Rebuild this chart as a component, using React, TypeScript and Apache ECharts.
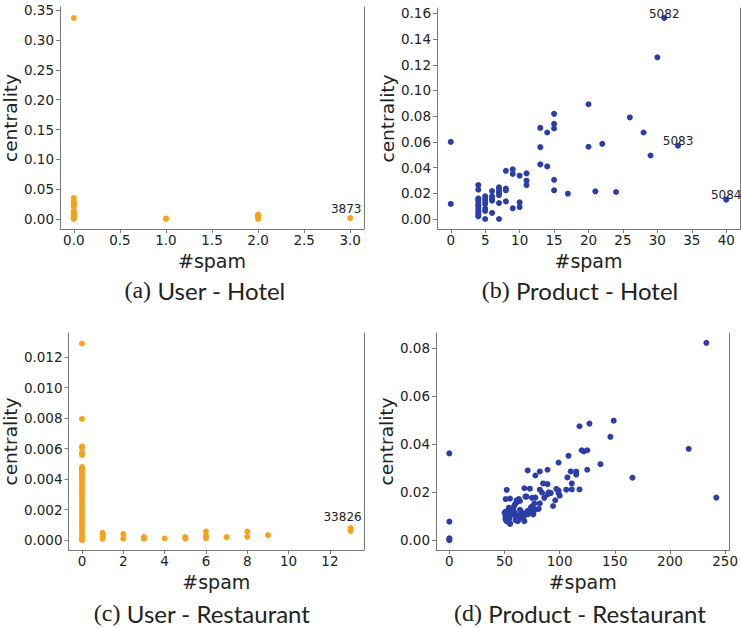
import React, { useEffect, useRef } from 'react';
import * as echarts from 'echarts';

const ORANGE = '#f9a11b';
const BLUE = '#2b3da6';
const AXIS_GREY = '#7a7a7a';
const TEXT = '#222222';

// (a) User - Hotel
const userHotel: number[][] = [
  [0, 0.337], [0, 0.0353], [0, 0.029], [0, 0.027], [0, 0.025], [0, 0.0225], [0, 0.0205],
  [0, 0.0135], [0, 0.011], [0, 0.0095], [0, 0.0075], [0, 0.006], [0, 0.004], [0, 0.0025],
  [0, 0.001], [0, 0], [1, 0], [1, 0.0008], [2, 0], [2, 0.002], [2, 0.004], [2, 0.0058], [2, 0.0075],
];
const userHotelLabeled: [number, number, string][] = [[3, 0.0015, '3873']];

// (b) Product - Hotel
const productHotel: number[][] = [
  [0, 0.06], [0, 0.0117], [30, 0.1258], [20, 0.0893], [26, 0.079], [28, 0.0673],
  [15, 0.0818], [15, 0.074], [15, 0.0704], [13, 0.0709], [14, 0.0673], [13, 0.0559],
  [20, 0.0562], [22, 0.0585], [29, 0.0494], [13, 0.0425], [14, 0.0409], [15, 0.0305],
  [15, 0.0223], [17, 0.0197], [21, 0.0215], [24, 0.021], [8, 0.0375], [9, 0.0386],
  [9, 0.035], [10, 0.0337], [11, 0.0355], [11, 0.0298], [11, 0.0264], [8, 0.0236],
  [8, 0.0223], [8, 0.0137], [9, 0.0083], [10, 0.0129], [10, 0.0093], [7, 0.0246],
  [7, 0.0228], [7, 0.0207], [7, 0.0186], [7, 0.0124], [7, 0.0], [6, 0.0217], [6, 0.0176],
  [6, 0.0158], [6, 0.0142], [6, 0.0047], [5, 0.0176], [5, 0.0155], [5, 0.0132], [5, 0.0117],
  [5, 0.008], [5, 0.0062], [5, 0.0], [4, 0.0264], [4, 0.0228], [4, 0.016], [4, 0.0145],
  [4, 0.0124], [4, 0.0106], [4, 0.0088], [4, 0.007], [4, 0.0052], [4, 0.0034], [4, 0.0021],
];
const productHotelLabeled: [number, number, string][] = [
  [31, 0.1564, '5082'], [33, 0.057, '5083'], [40, 0.015, '5084'],
];

// (c) User - Restaurant
const userRestaurant: number[][] = [
  [0, 0.0129], [0, 0.00796], [0, 0.00615], [0, 0.00605], [0, 0.00572], [0, 0.00559],
  [0, 0.0048], [0, 0.0047], [0, 0.0046], [0, 0.0045], [0, 0.0044], [0, 0.0042], [0, 0.004],
  [0, 0.0038], [0, 0.0036], [0, 0.0034], [0, 0.0032], [0, 0.003], [0, 0.0028], [0, 0.0026],
  [0, 0.0024], [0, 0.0022], [0, 0.002], [0, 0.0018], [0, 0.0016], [0, 0.0014], [0, 0.0012],
  [0, 0.001], [0, 0.0008], [0, 0.0006], [0, 0.0004], [0, 0.0002], [0, 0.0001], [0, 0.0],
  [1, 0.00048], [1, 0.00035], [1, 0.00022], [1, 0.00009], [2, 0.0004], [2, 0.0001],
  [3, 0.0002], [3, 0.0001], [4, 0.00011], [5, 0.0002], [5, 0.0001], [6, 0.00057],
  [6, 0.00026], [6, 0.00013], [7, 0.0002], [8, 0.00057], [8, 0.00022], [9, 0.00033],
  [13, 0.00061],
];
const userRestaurantLabeled: [number, number, string][] = [[13, 0.00079, '33826']];

// (d) Product - Restaurant
const productRestaurant: number[][] = [
  [0, 0.0361], [0, 0.0077], [0, 0.0008], [0, 0.0003], [0, 0.0],
  [233, 0.0821], [242, 0.0177], [217, 0.038], [166, 0.026], [149, 0.0497], [146, 0.043],
  [127, 0.0485], [118, 0.0474], [137, 0.0316], [125, 0.0374], [120, 0.0374], [122, 0.0369],
  [125, 0.0293], [115, 0.0285], [115, 0.0273], [110, 0.0286], [108, 0.0351], [107, 0.0261],
  [111, 0.0236], [111, 0.0211], [118, 0.0211], [106, 0.021], [99, 0.0323], [89, 0.0293],
  [82, 0.0286], [71, 0.029], [78, 0.0269], [85, 0.0236], [89, 0.0233], [82, 0.021],
  [90, 0.0199], [92, 0.0196], [97, 0.0213], [99, 0.0206], [99, 0.0196], [100, 0.0185],
  [96, 0.0166], [94, 0.0142], [84, 0.0198], [78, 0.0177], [82, 0.0153], [81, 0.013],
  [75, 0.0176], [75, 0.014], [71, 0.0122], [71, 0.011], [76, 0.0112], [73, 0.0214],
  [68, 0.0216], [70, 0.0181], [68, 0.0079], [66, 0.0097], [63, 0.0171], [64, 0.0163],
  [61, 0.0158], [60, 0.0152], [59, 0.0145], [58, 0.0133], [57, 0.0124], [64, 0.0126],
  [66, 0.0116], [67, 0.0106], [63, 0.0088], [62, 0.0079], [55, 0.0173], [52, 0.0209],
  [51, 0.0171], [51, 0.0119], [52, 0.0105], [51, 0.0097], [51, 0.0086], [52, 0.008],
  [53, 0.0093], [55, 0.0069], [54, 0.0086], [54, 0.0113], [60, 0.0106], [61, 0.0093],
  [60, 0.0083], [54, 0.0135], [50, 0.0114], [51, 0.01], [51, 0.0089], [52, 0.0079],
  [55, 0.0068], [55, 0.0097], [58, 0.0107], [59, 0.0116], [62, 0.0097], [65, 0.0107],
  [64, 0.0093], [67, 0.0095], [71, 0.0107], [74, 0.0116], [76, 0.0107], [78, 0.0127],
  [86, 0.0176], [89, 0.019], [74, 0.0136], [77, 0.0152], [69, 0.0181], [61, 0.0166],
  [57, 0.0123], [53, 0.0102], [56, 0.0112], [65, 0.0115],
];

// tick values
const xTicksA = [0, 0.5, 1, 1.5, 2, 2.5, 3];
const yTicksA = [0, 0.05, 0.1, 0.15, 0.2, 0.25, 0.3, 0.35];
const xTicksB = [0, 5, 10, 15, 20, 25, 30, 35, 40];
const yTicksB = [0, 0.02, 0.04, 0.06, 0.08, 0.1, 0.12, 0.14, 0.16];
const xTicksC = [0, 2, 4, 6, 8, 10, 12];
const yTicksC = [0, 0.002, 0.004, 0.006, 0.008, 0.01, 0.012];
const xTicksD = [0, 50, 100, 150, 200, 250];
const yTicksD = [0, 0.02, 0.04, 0.06, 0.08];

const captions = ['(a)', '(b)', '(c)', '(d)'];
const captionTexts = ['User - Hotel', 'Product - Hotel', 'User - Restaurant', 'Product - Restaurant'];

const SANS = "'DejaVu Sans', sans-serif";

interface PanelCfg {
  grid: { left: number; top: number; width: number; height: number };
  xr: [number, number];
  yr: [number, number];
  xt: number[];
  yt: number[];
  xd: number;
  yd: number;
  yGap: number;
  color: string;
  data: number[][];
  labeled: [number, number, string][];
  labelOffset: [number, number];
  caption: [number, number];
}

const panels: PanelCfg[] = [
  {
    grid: { left: 60, top: 7, width: 304, height: 222 },
    xr: [-0.15, 3.15], yr: [-0.0168, 0.3555], xt: xTicksA, yt: yTicksA, xd: 1, yd: 2, yGap: 32,
    color: ORANGE, data: userHotel, labeled: userHotelLabeled, labelOffset: [-4, -9], caption: [205, 290],
  },
  {
    grid: { left: 437, top: 8, width: 303, height: 221 },
    xr: [-2, 42], yr: [-0.0078, 0.1642], xt: xTicksB, yt: yTicksB, xd: 0, yd: 2, yGap: 39,
    color: BLUE, data: productHotel, labeled: productHotelLabeled, labelOffset: [0, -4.5], caption: [580, 290],
  },
  {
    grid: { left: 66, top: 333, width: 298, height: 217 },
    xr: [-0.65, 13.65], yr: [-0.000645, 0.01359], xt: xTicksC, yt: yTicksC, xd: 0, yd: 3, yGap: 38,
    color: ORANGE, data: userRestaurant, labeled: userRestaurantLabeled, labelOffset: [-8, -11], caption: [202, 613],
  },
  {
    grid: { left: 436, top: 333, width: 298, height: 217 },
    xr: [-12.1, 253.9], yr: [-0.0041, 0.0862], xt: xTicksD, yt: yTicksD, xd: 0, yd: 2, yGap: 38,
    color: BLUE, data: productRestaurant, labeled: [], labelOffset: [0, 0], caption: [580, 613],
  },
];

function buildOption() {
  const grid: any[] = [];
  const xAxis: any[] = [];
  const yAxis: any[] = [];
  const series: any[] = [];
  const graphic: any[] = [];

  panels.forEach((p, i) => {
    grid.push({ ...p.grid, containLabel: false });
    xAxis.push({
      type: 'value', gridIndex: i, min: p.xr[0], max: p.xr[1],
      axisLine: { show: true, onZero: false, lineStyle: { color: AXIS_GREY, width: 1 } },
      axisTick: { show: true, length: 4, customValues: p.xt, lineStyle: { color: AXIS_GREY } },
      axisLabel: {
        customValues: p.xt, formatter: (v: number) => v.toFixed(p.xd),
        fontSize: 13.5, fontFamily: SANS, color: TEXT, margin: 4,
      },
      splitLine: { show: false },
      name: '#spam', nameLocation: 'middle', nameGap: 22,
      nameTextStyle: { fontSize: 19, fontFamily: SANS, color: TEXT },
    });
    yAxis.push({
      type: 'value', gridIndex: i, min: p.yr[0], max: p.yr[1], position: 'left',
      axisLine: { show: true, onZero: false, lineStyle: { color: AXIS_GREY, width: 1 } },
      axisTick: { show: true, length: 4, customValues: p.yt, lineStyle: { color: AXIS_GREY } },
      axisLabel: {
        customValues: p.yt, formatter: (v: number) => v.toFixed(p.yd),
        fontSize: 13.5, fontFamily: SANS, color: TEXT, margin: 6,
      },
      splitLine: { show: false },
      name: 'centrality', nameLocation: 'middle', nameGap: p.yGap,
      nameTextStyle: { fontSize: 18.5, fontFamily: SANS, color: TEXT },
    });
    yAxis.push({
      type: 'value', gridIndex: i, min: p.yr[0], max: p.yr[1], position: 'right',
      axisLine: { show: true, onZero: false, lineStyle: { color: AXIS_GREY, width: 1 } },
      axisTick: { show: false }, axisLabel: { show: false }, splitLine: { show: false },
    });
    series.push({
      type: 'scatter', xAxisIndex: i, yAxisIndex: i * 2, symbolSize: 6,
      itemStyle: { color: p.color, opacity: 1 }, data: p.data,
    });
    if (p.labeled.length) {
      series.push({
        type: 'scatter', xAxisIndex: i, yAxisIndex: i * 2, symbolSize: 6,
        itemStyle: { color: p.color, opacity: 1 },
        data: p.labeled.map((d) => ({ value: [d[0], d[1]], name: d[2] })),
        label: {
          show: true, formatter: '{b}', position: 'inside', offset: p.labelOffset,
          fontSize: 12, fontFamily: SANS, color: TEXT,
        },
      });
    }
    graphic.push({
      type: 'text', x: p.caption[0], y: p.caption[1],
      style: {
        text: '{s|' + captions[i] + '} ' + captionTexts[i],
        align: 'center', verticalAlign: 'middle',
        fontSize: 24, fontFamily: "'Lato', sans-serif", fill: TEXT,
        rich: { s: { fontSize: 24, fontFamily: "'Liberation Serif', serif", fill: TEXT } },
      },
    });
  });

  return { animation: false, backgroundColor: '#ffffff', grid, xAxis, yAxis, series, graphic };
}

export default function App() {
  const ref = useRef<HTMLDivElement>(null);
  useEffect(() => {
    if (!ref.current) return;
    const chart = echarts.init(ref.current, null, { renderer: 'svg' });
    chart.setOption(buildOption() as any);
    return () => chart.dispose();
  }, []);
  return (
    <div
      ref={ref}
      style={{ position: 'absolute', left: 0, top: 0, width: 741, height: 628, background: '#fff' }}
    />
  );
}
